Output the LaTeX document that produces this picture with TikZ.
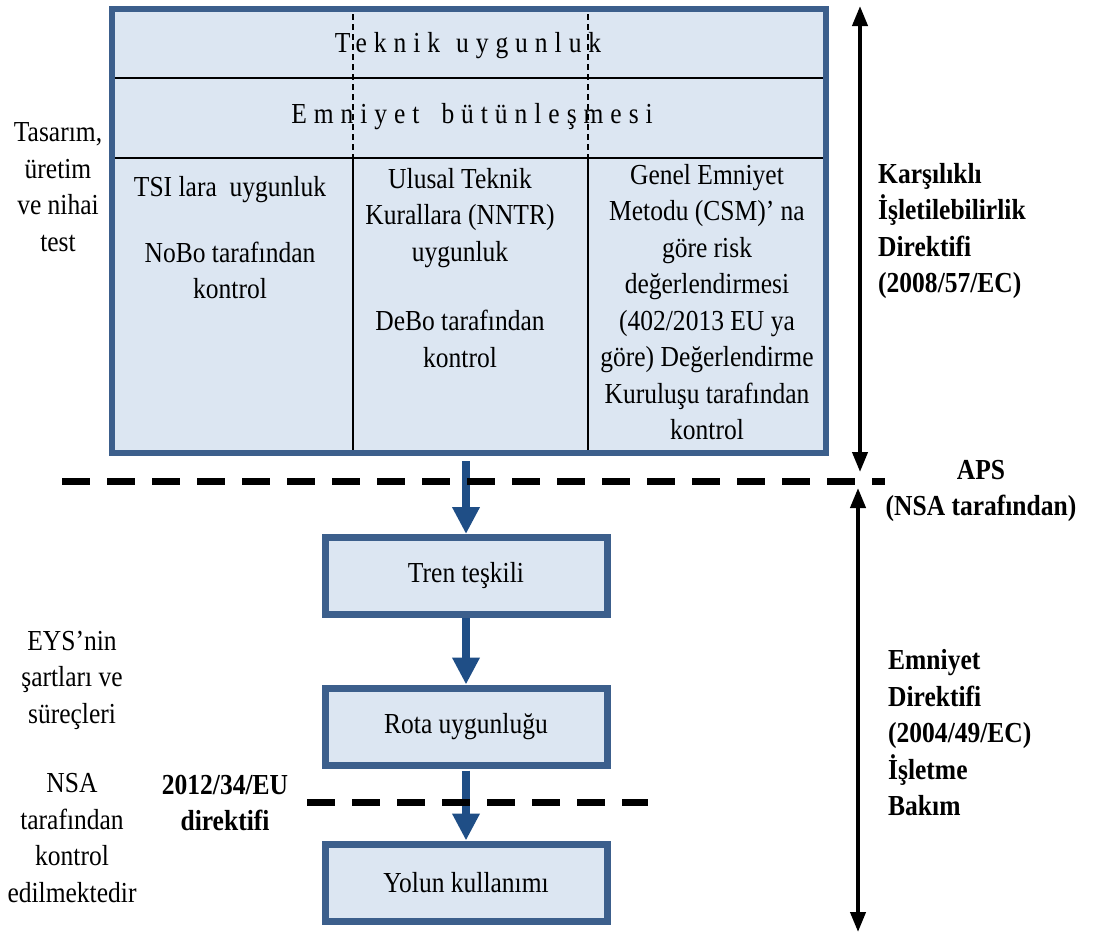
\documentclass[tikz,border=0pt]{standalone}
\usepackage{fontspec}
\setmainfont{Liberation Serif}[FakeStretch=0.88]
\usetikzlibrary{arrows.meta}
\definecolor{boxedge}{HTML}{3C5F8C}
\definecolor{boxfill}{HTML}{DCE6F2}
\definecolor{flowblue}{HTML}{1F4E86}
\newcommand\spacedtext[1]{{\addfontfeature{LetterSpace=24}#1}}

\begin{document}
\begin{tikzpicture}[x=1pt,y=-1pt,
  every node/.style={inner sep=0pt, font=\fontsize{29}{36.5}\selectfont},
  panel/.style={rectangle, draw=boxedge, fill=boxfill, line width=7pt},
  stepbox/.style={panel, minimum width=282pt, minimum height=77pt},
  flow/.style={draw=flowblue, line width=8pt, -{Triangle[length=27pt,width=26pt]}},
  span/.style={line width=4pt, {Triangle[length=20pt,width=15pt]}-{Triangle[length=20pt,width=15pt]}},
  gate/.style={line width=7pt, dash pattern=on 28pt off 17pt},
  rule/.style={line width=1.5pt},
  cutline/.style={line width=1.5pt, dash pattern=on 6pt off 4pt},
  law/.style={font=\fontsize{29}{36.5}\selectfont\bfseries}]
\useasboundingbox (0,0) rectangle (1099,938);

% conformity panel
\node[panel, line width=6.5pt, minimum width=714pt, minimum height=444pt] (top) at (469,231) {};
\draw[rule] (115,78) -- (823,78);
\draw[rule] (115,158) -- (823,158);
\draw[cutline] (353,14) -- (353,158);
\draw[cutline] (588,14) -- (588,158);
\draw[rule] (353,158) -- (353,450);
\draw[rule] (588,158) -- (588,450);

\node (tech) at (468,46) {\spacedtext{Teknik}\hspace{16pt}\spacedtext{uygunluk}};
\node (integ) at (472,117) {\spacedtext{Emniyet}\hspace{22pt}\spacedtext{bütünleşmesi}};

\node[align=center] (c1) at (230,238) {TSI lara\ \ uygunluk\\[29pt]NoBo tarafından\\kontrol};
\node[align=center] (c2) at (460,268) {Ulusal Teknik\\Kurallara (NNTR)\\uygunluk\\[33pt]DeBo tarafından\\kontrol};
\node[align=center] (c3) at (707,302) {Genel Emniyet\\Metodu (CSM)’ na\\göre risk\\değerlendirmesi\\(402/2013 EU ya\\göre) Değerlendirme\\Kuruluşu tarafından\\kontrol};

\node[align=center] (design) at (58,187) {Tasarım,\\üretim\\ve nihai\\test};

% operation steps
\node[stepbox] (tren) at (466,576) {Tren teşkili};
\node[stepbox] (rota) at (466,726.5) {Rota uygunluğu};
\node[stepbox] (yol) at (466,882.5) {Yolun kullanımı};

\draw[flow, shorten <=5pt] (top.south -| tren.north) -- (tren.north);
\draw[flow] (tren.south) -- (rota.north);
\draw[flow, shorten <=2pt] (rota.south) -- (yol.north);

% authorisation boundaries
\draw[gate] (62,481) -- (885,481);
\draw[gate] (307,802) -- (648,802);

% directive spans
\coordinate (s1a) at (860,6);
\coordinate (s1b) at (860,472);
\coordinate (s2a) at (858,488);
\coordinate (s2b) at (858,932);
\draw[span] (s1a) -- (s1b);
\draw[span] (s2a) -- (s2b);

\node[law, align=left, anchor=west] (interop) at (878,231) {Karşılıklı\\İşletilebilirlik\\Direktifi\\(2008/57/EC)};
\node[law, align=center] (aps) at (981,491) {APS\\(NSA tarafından)};
\node[law, align=left, anchor=west] (safety) at (888,733) {Emniyet\\Direktifi\\(2004/49/EC)\\İşletme\\Bakım};
\node[law, align=center] (dir2012) at (225,803) {2012/34/EU\\direktifi};

\node[align=center] (eys) at (72,680) {EYS’nin\\şartları ve\\süreçleri};
\node[align=center] (nsa) at (72,838) {NSA\\tarafından\\kontrol\\edilmektedir};
\end{tikzpicture}
\end{document}
